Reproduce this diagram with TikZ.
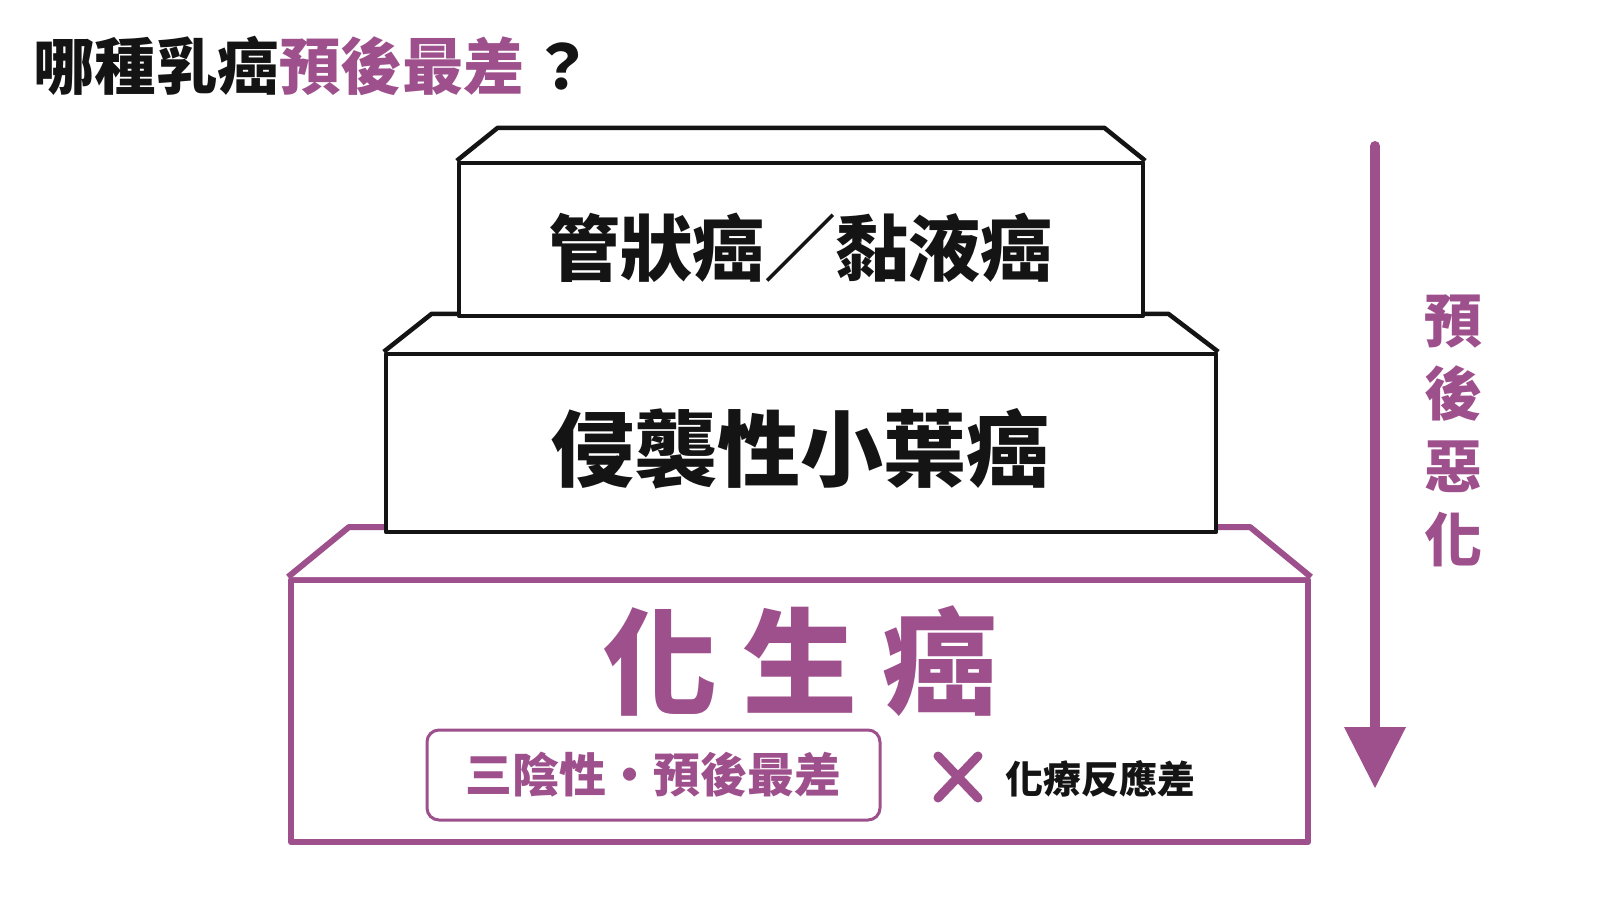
\documentclass[tikz,border=0pt]{standalone}
\usepackage{fontspec}
\setmainfont{Noto Sans CJK TC}
\usetikzlibrary{arrows.meta}
\definecolor{plum}{RGB}{158,80,140}
\definecolor{ink}{RGB}{20,20,20}
\newcommand{\fsz}[1]{\fontsize{#1}{#1}\selectfont\bfseries}

\begin{document}
\begin{tikzpicture}[x=1pt, y=-1pt,
    tier/.style={draw=ink, line width=4.5pt, line join=round, fill=white, inner sep=0pt},
    basetier/.style={tier, draw=plum, line width=6pt},
    word/.style={inner sep=0pt, text=ink}]
    \useasboundingbox (0,0) rectangle (1600,900);
    % title
    \node [word, anchor=west] (title) at (33,66) {\fsz{61.5}哪種乳癌\textcolor{plum}{預後最差}\kern6pt？};
    % base: metaplastic
    \node [basetier, minimum width=1017pt, minimum height=262pt] (meta) at (799.5,711) {};
    \draw [basetier]  (meta.north west) -- ++(61,-50) -- ([xshift=-61pt, yshift=50pt]meta.north east) -- (meta.north east);
    \node [word, text=plum] (metatext) at (800,661) {\fsz{115}化\kern25pt生\kern25pt癌};
    \node [draw=plum, line width=3pt, rounded corners=12pt, minimum width=453pt, minimum height=90pt,
           text=plum, inner sep=0pt] (tnbc) at (653.5,775) {\fsz{47}三陰性・預後最差};
    \coordinate (cross) at (958,777);
    \draw [plum, line width=9pt, line cap=round] ([shift={(-20,-21)}]cross) -- ([shift={(20,21)}]cross);
    \draw [plum, line width=9pt, line cap=round] ([shift={(20,-21)}]cross) -- ([shift={(-20,21)}]cross);
    \node [word] (chemo) at (1100,779) {\fsz{38}化療反應差};
    % middle: lobular
    \node [tier, minimum width=830pt, minimum height=178pt] (lobular) at (801,443) {};
    \draw [tier]      (lobular.north west) -- ++(48,-38) -- ([xshift=-50pt, yshift=38pt]lobular.north east) -- (lobular.north east);
    \node [word] (lobtext) at (800,449) {\fsz{83}侵襲性小葉癌};
    % top: ductal / mucinous
    \node [tier, minimum width=684pt, minimum height=153pt] (duct) at (801,239.5) {};
    \draw [tier]      (duct.north west) -- ++(41,-33) -- ([xshift=-41pt, yshift=33pt]duct.north east) -- (duct.north east);
    \node [word] (ducttext) at (800,248) {\fsz{72}管狀癌／黏液癌};
    % arrow
    \coordinate (arrtop) at (1375,146);
    \coordinate (arrtip) at (1375,788);
    \draw [plum, line width=10pt, line cap=round, -{Triangle[length=61pt, width=62pt, line width=0pt]}] (arrtop) -- (arrtip);
    \node [word, text=plum, align=center, font=\fontsize{58}{73}\selectfont\bfseries] (worse) at (1453,431) {預\\後\\惡\\化};
\end{tikzpicture}
\end{document}
